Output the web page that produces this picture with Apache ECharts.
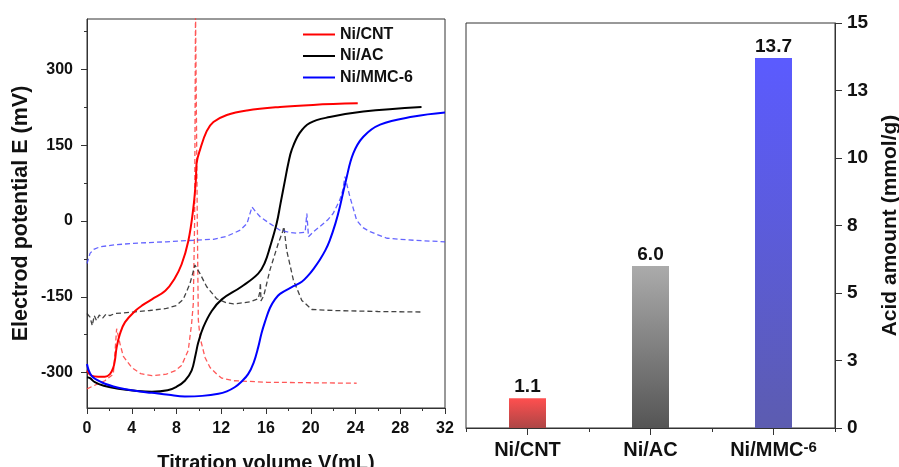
<!DOCTYPE html>
<html>
<head>
<meta charset="utf-8">
<script src="https://cdn.jsdelivr.net/npm/echarts@6/dist/echarts.min.js"></script>
<style>
html,body{margin:0;padding:0;background:#fff;}
#chart{width:899px;height:467px;}
</style>
</head>
<body>
<div id="chart"></div>
<script>
// ---- Data ----
const seriesNames = ['Ni/CNT', 'Ni/AC', 'Ni/MMC-6'];

// Titration curves: [volume mL, potential mV]
const cntTitration = [[0,-296],[0.4,-306],[1.0,-308],[1.6,-308],[2.05,-303],[2.35,-290],[2.5,-275],[2.65,-250],[2.95,-223],[3.4,-200],[4.3,-178],[5.0,-166],[5.8,-155],[7.0,-138],[7.8,-115],[8.45,-86],[9.05,-40],[9.5,25],[9.73,81],[9.8,115],[10.1,141],[10.7,178],[11.3,196],[12.5,210],[14.3,219],[17.25,226],[20.2,230],[24.2,233]];
const acTitration = [[0,-309],[0.27,-311],[0.7,-319],[1.5,-326],[2.8,-332],[4.3,-336],[5.8,-338],[7.2,-335],[8.0,-328],[8.75,-316],[9.35,-296],[9.7,-265],[9.95,-240],[10.4,-210],[11.15,-178],[12.05,-155],[13.8,-130],[15.3,-104],[15.9,-82],[16.35,-52],[16.95,-5],[17.3,35],[17.7,81],[18.0,115],[18.3,141],[19.0,174],[19.9,194],[21.7,206],[24.7,217],[29.9,226]];
const mmcTitration = [[0,-283],[0.4,-306],[1.3,-319],[2.8,-330],[4.3,-336],[5.8,-340],[7.3,-344],[8.75,-347],[10.3,-346],[11.75,-342],[12.5,-337],[13.2,-329],[13.8,-318],[14.4,-303],[14.9,-280],[15.3,-250],[15.6,-222],[15.9,-200],[16.35,-172],[16.8,-155],[17.25,-144],[18.45,-129],[19.2,-120],[19.8,-107],[20.3,-93],[20.8,-77],[21.3,-58],[21.7,-38],[22.2,-5],[22.6,28],[23.15,81],[23.8,134],[24.7,167],[26.2,191],[29.2,207],[32,215]];

// Derivative (dashed) curves
const cntDerivative = [[0,-332],[0.8,-324],[1.6,-316],[2.35,-303],[2.5,-260],[2.65,-213],[2.95,-243],[3.25,-268],[4.0,-290],[4.8,-302],[5.8,-306],[7.1,-303],[7.9,-296],[8.45,-286],[9.05,-256],[9.35,-203],[9.5,-164],[9.62,0],[9.7,420],[9.8,420],[9.86,0],[9.95,-195],[10.1,-230],[10.55,-270],[11.0,-290],[11.6,-303],[12.05,-311],[13.1,-316],[16.05,-319],[20,-320],[24.1,-321]];
const acDerivative = [[0,-183],[0.27,-190],[0.47,-207],[0.65,-187],[0.85,-197],[1.1,-186],[1.4,-192],[1.7,-184],[2.05,-187],[2.5,-183],[4.15,-180],[5.6,-177],[7.1,-173],[8.0,-167],[8.6,-155],[9.2,-124],[9.65,-87],[10.1,-104],[10.7,-130],[11.6,-154],[12.5,-162],[13.1,-164],[14.55,-160],[15.3,-154],[15.45,-140],[15.5,-122],[15.55,-158],[15.8,-148],[16.35,-97],[17.1,-44],[17.5,-20],[17.6,-11],[17.85,-58],[18.45,-117],[19.2,-157],[20.1,-175],[22,-177],[26,-179],[29.9,-180]];
const mmcDerivative = [[0,-84],[0.27,-64],[0.6,-56],[1.15,-51],[2.5,-47],[4.15,-44],[7.1,-41],[9.5,-38],[11.3,-36],[12.5,-30],[13.7,-18],[14.3,-5],[14.75,28],[15.1,18],[15.5,8],[16.35,-5],[17.25,-18],[18.0,-22],[18.75,-24],[19.5,-22],[19.65,15],[19.8,-31],[20.3,-20],[20.8,-11],[21.5,2],[22,15],[22.6,42],[22.85,60],[23.06,88],[23.5,48],[24.1,2],[24.6,-12],[25.3,-21],[26.8,-34],[29.2,-38],[32,-41]];

// Axis ticks
const potentialTicks = [-300, -150, 0, 150, 300];
const potentialMinorTicks = [-225, -75, 75, 225, 375];

// Bar chart
const barCategories = ['Ni/CNT', 'Ni/AC', 'Ni/MMC-6'];
const acidAmounts = [1.1, 6.0, 13.7];

// ---- Chart ----
const FONT = "'Liberation Sans', Arial, sans-serif";
const AX = '#333';
const chart = echarts.init(document.getElementById('chart'), null, {renderer: 'canvas'});

const barGradients = [
  ['#ff4f4f', '#ad4646'],
  ['#ababab', '#555555'],
  ['#5b5bff', '#5c5cb0']
];
const legendColors = ['#ff0000', '#000000', '#0000ff'];

function lineSeries(name, data, color, dashed) {
  return {
    name: name,
    type: 'line',
    xAxisIndex: 0,
    yAxisIndex: 0,
    data: data,
    symbol: 'none',
    showSymbol: false,
    clip: true,
    smooth: dashed ? false : 0.4,
    z: dashed ? 2 : 3,
    lineStyle: dashed
      ? {color: color, width: 1.3, type: [5, 3], opacity: 0.85}
      : {color: color, width: 2},
    itemStyle: {color: color},
    emphasis: {disabled: true}
  };
}

const option = {
  animation: false,
  backgroundColor: '#fff',
  textStyle: {fontFamily: FONT},
  grid: [
    {left: 87, top: 19, width: 358, height: 389, show: true, borderColor: AX, borderWidth: 1, backgroundColor: 'transparent', outerBoundsMode: 'none', containLabel: false},
    {left: 466, top: 23, width: 369, height: 405, show: true, borderColor: AX, borderWidth: 1, backgroundColor: 'transparent', outerBoundsMode: 'none', containLabel: false}
  ],
  legend: {
    data: seriesNames.map(function (n, i) {
      return {name: n, icon: 'rect', itemStyle: {color: legendColors[i]}};
    }),
    orient: 'vertical',
    left: 303,
    top: 26,
    padding: 0,
    itemWidth: 32,
    itemHeight: 2,
    itemGap: 4.5,
    textStyle: {fontFamily: FONT, fontWeight: 'bold', fontSize: 16, color: '#111', lineHeight: 17}
  },
  xAxis: [
    {
      type: 'value', gridIndex: 0, min: 0, max: 32, interval: 4, position: 'bottom',
      axisLine: {show: true, onZero: false, lineStyle: {color: AX, width: 1}},
      axisTick: {show: true, length: 6, lineStyle: {color: AX}},
      minorTick: {show: true, splitNumber: 2, length: 3, lineStyle: {color: AX}},
      splitLine: {show: false},
      axisLabel: {fontFamily: FONT, fontWeight: 'bold', fontSize: 16, color: '#111', margin: 13},
      name: 'Titration volume V(mL)',
      nameLocation: 'middle',
      nameGap: 45,
      nameTextStyle: {fontFamily: FONT, fontWeight: 'bold', fontSize: 20, color: '#111'}
    },
    {
      type: 'category', gridIndex: 1, data: barCategories, position: 'bottom',
      axisLine: {show: true, onZero: false, lineStyle: {color: AX, width: 1}},
      axisTick: {show: true, alignWithLabel: true, length: 7, lineStyle: {color: AX}},
      axisLabel: {
        interval: 0,
        fontFamily: FONT, fontWeight: 'bold', fontSize: 20, color: '#111', margin: 12,
        formatter: function (v) { return v === 'Ni/MMC-6' ? 'Ni/MMC{s|-6}' : v; },
        rich: {s: {fontFamily: FONT, fontWeight: 'bold', fontSize: 15, color: '#111', padding: [0, 0, 5, 0]}}
      },
      splitLine: {show: false}
    },
    {
      type: 'category', gridIndex: 1, data: barCategories, position: 'bottom',
      axisLine: {show: false, onZero: false},
      axisTick: {show: true, alignWithLabel: false, interval: 0, length: 4, lineStyle: {color: AX}},
      axisLabel: {show: false},
      splitLine: {show: false}
    }
  ],
  yAxis: [
    {
      type: 'value', gridIndex: 0, min: -370, max: 400, position: 'left',
      axisLine: {show: true, onZero: false, lineStyle: {color: AX, width: 1}},
      axisTick: {show: true, length: 6, customValues: potentialTicks, lineStyle: {color: AX}},
      axisLabel: {customValues: potentialTicks, fontFamily: FONT, fontWeight: 'bold', fontSize: 16, color: '#111', margin: 14},
      splitLine: {show: false},
      name: 'Electrod potential E (mV)',
      nameLocation: 'middle',
      nameRotate: 90,
      nameGap: 55,
      nameTextStyle: {fontFamily: FONT, fontWeight: 'bold', fontSize: 21.5, color: '#111'}
    },
    {
      type: 'value', gridIndex: 0, min: -370, max: 400, position: 'left',
      axisLine: {show: false, onZero: false},
      axisTick: {show: true, length: 3, customValues: potentialMinorTicks, lineStyle: {color: AX}},
      axisLabel: {show: false},
      splitLine: {show: false}
    },
    {
      type: 'value', gridIndex: 1, position: 'right', min: 0, max: 15, interval: 2.5,
      axisLine: {show: true, onZero: false, lineStyle: {color: AX, width: 1}},
      axisTick: {show: true, length: 7, lineStyle: {color: AX}},
      axisLabel: {
        fontFamily: FONT, fontWeight: 'bold', fontSize: 19, color: '#111', margin: 12,
        formatter: function (v) { return String(Math.round(v)); }
      },
      splitLine: {show: false},
      name: 'Acid amount (mmol/g)',
      nameLocation: 'middle',
      nameRotate: 90,
      nameGap: 45,
      nameTextStyle: {fontFamily: FONT, fontWeight: 'bold', fontSize: 21, color: '#111'}
    }
  ],
  series: [
    lineSeries('Ni/CNT-d', cntDerivative, '#ff3b3b', true),
    lineSeries('Ni/AC-d', acDerivative, '#222222', true),
    lineSeries('Ni/MMC-6-d', mmcDerivative, '#4a4aff', true),
    lineSeries('Ni/CNT', cntTitration, '#ff0000', false),
    lineSeries('Ni/AC', acTitration, '#000000', false),
    lineSeries('Ni/MMC-6', mmcTitration, '#0000ff', false),
    {
      name: 'Acid amount',
      type: 'bar',
      xAxisIndex: 1,
      yAxisIndex: 2,
      barWidth: 37,
      data: acidAmounts.map(function (v, i) {
        return {
          value: v,
          itemStyle: {
            color: new echarts.graphic.LinearGradient(0, 0, 0, 1, [
              {offset: 0, color: barGradients[i][0]},
              {offset: 1, color: barGradients[i][1]}
            ])
          }
        };
      }),
      label: {
        show: true, position: 'top', distance: 2,
        fontFamily: FONT, fontWeight: 'bold', fontSize: 19, color: '#111',
        formatter: function (p) { return p.value.toFixed(1); }
      },
      emphasis: {disabled: true}
    }
  ]
};
chart.setOption(option);
</script>
</body>
</html>
